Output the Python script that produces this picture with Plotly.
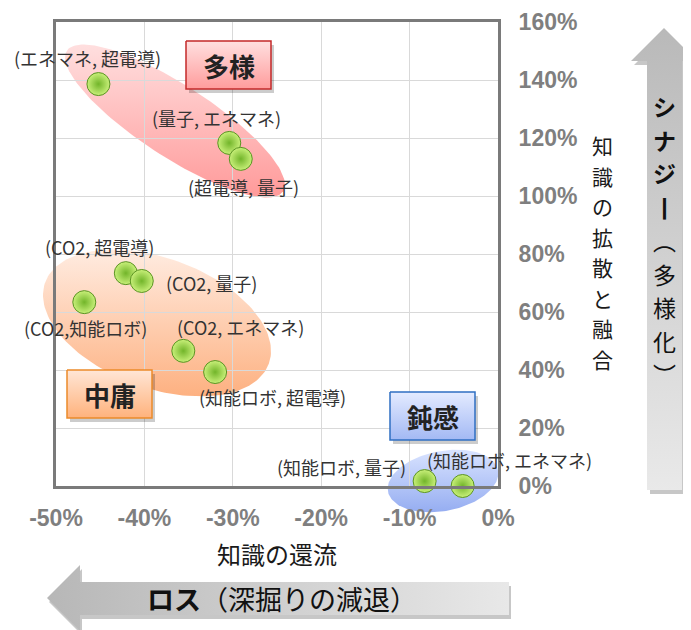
import numpy as np
import plotly.graph_objects as go

# ---------------- data ----------------
pair_labels = ["(エネマネ, 超電導)", "(量子, エネマネ)", "(超電導, 量子)",
               "(CO2, 超電導)", "(CO2, 量子)", "(CO2,知能ロボ)", "(CO2, エネマネ)",
               "(知能ロボ, 超電導)", "(知能ロボ, 量子)", "(知能ロボ, エネマネ)"]
knowledge_return = [-45.2, -30.4, -29.1, -42.1, -40.3, -46.8, -35.6, -32.0, -8.3, -4.0]   # x (%)
knowledge_fusion = [138.6, 118.3, 112.8, 73.4, 70.7, 63.4, 46.6, 39.3, 1.7, 0.0]        # y (%)
x_tick_vals = [-50, -40, -30, -20, -10, 0]
x_tick_text = ["-50%", "-40%", "-30%", "-20%", "-10%", "0%"]
y_tick_vals = [0, 20, 40, 60, 80, 100, 120, 140, 160]
y_tick_text = ["0%", "20%", "40%", "60%", "80%", "100%", "120%", "140%", "160%"]
group_names = ["多様", "中庸", "鈍感"]
x_title = "知識の還流"
y_title = "知識の拡散と融合"
arrow_right_text = ["シ", "ナ", "ジ", "丨", "︵", "多", "様", "化", "︶"]
arrow_bottom_bold = "ロス"
arrow_bottom_rest = "（深掘りの減退）"

# ---------------- layout geometry (screen pixels) ----------------
SCREEN_W, SCREEN_H = 691, 630
OFF = 8                      # page body margin
W, H = SCREEN_W - OFF, SCREEN_H - OFF
PL, PR, PT, PB = 56, 498, 22, 486
label_offsets = [(-11, 26), (-13, 25), (3, -28), (-26, 26), (70, -2),
                 (1, -26), (57, 24), (57, -25), (-83, 14), (47, 26)]

CJK = "Noto Sans CJK JP, Noto Sans, sans-serif"
NUMF = "Liberation Sans, Arial, sans-serif"


def ellipse(cx, cy, a, b, ang, n=160):
    t = np.linspace(0, 2 * np.pi, n)
    th = np.deg2rad(ang)
    xs = cx + a * np.cos(t) * np.cos(th) - b * np.sin(t) * np.sin(th)
    ys = cy + a * np.cos(t) * np.sin(th) + b * np.sin(t) * np.cos(th)
    return list(xs), list(ys)


def rect(x0, y0, x1, y1):
    return [x0, x1, x1, x0, x0], [y0, y0, y1, y1, y0]


fig = go.Figure()


def poly(xs, ys, ref, color=None, grad=None, gtype="vertical", line=None):
    kw = dict(x=xs, y=ys, xaxis=ref[0], yaxis=ref[1], mode="lines", fill="toself",
              hoverinfo="skip", showlegend=False)
    kw["line"] = line if line else dict(width=0, color="rgba(0,0,0,0)")
    if grad:
        kw["fillgradient"] = dict(type=gtype, colorscale=grad)
    else:
        kw["fillcolor"] = color
    fig.add_trace(go.Scatter(**kw))


U = ("x", "y")
O = ("x3", "y3")

# vertical gradients: colorscale 0 = bottom of screen, 1 = top
# right arrow (shadow + body)
ra_x = [664, 697, 682, 682, 647, 647, 631, 664]
ra_y = [28, 61, 61, 490, 490, 61, 61, 28]
poly([v + 3 for v in ra_x], [v + 4 for v in ra_y], U, color="rgba(0,0,0,0.22)")
poly(ra_x, ra_y, U, grad=[[0, "#e9e9e9"], [1, "#b9b9b9"]])

# bottom arrow
ba_x = [47, 80, 80, 509, 509, 80, 80, 47]
ba_y = [598, 565, 582, 582, 615, 615, 631, 598]
poly([v + 2 for v in ba_x], [v + 4 for v in ba_y], U, color="rgba(0,0,0,0.22)")
poly(ba_x, ba_y, U, grad=[[0, "#b7b7b7"], [1, "#e8e8e8"]], gtype="horizontal")

# group ellipses
ex, ey = ellipse(175, 121, 129, 36, 33)
poly(ex, ey, U, grad=[[0, "rgba(255,145,145,0.92)"], [1, "rgba(255,220,220,0.92)"]])
ex, ey = ellipse(157, 323, 119, 65, 20)
poly(ex, ey, U, grad=[[0, "rgba(253,170,118,0.92)"], [1, "rgba(255,234,222,0.92)"]])
ex, ey = ellipse(443, 481, 56, 30, -11)
poly(ex, ey, U, grad=[[0, "rgba(140,166,240,0.92)"], [1, "rgba(214,225,255,0.92)"]])

# ---- data markers (x2/y2) ----
fig.add_trace(go.Scatter(
    x=knowledge_return, y=knowledge_fusion, xaxis="x2", yaxis="y2",
    mode="markers", cliponaxis=False, showlegend=False, text=pair_labels,
    marker=dict(size=23, color="#c9f07a",
                gradient=dict(type="radial", color="#72b52a"),
                line=dict(color="#5a9322", width=1)),
))

# ---- overlay boxes (x3/y3) ----
boxes = [
    ((186, 41, 271, 89), "#c42a2a", [[0, "#ff9c9c"], [1, "#ffe0e0"]]),
    ((67, 370, 152, 418), "#ec8a2a", [[0, "#ffb27c"], [1, "#ffe6d6"]]),
    ((390, 392, 475, 440), "#2f6fc2", [[0, "#a3b9f4"], [1, "#e4ebff"]]),
]
for (x0, y0, x1, y1), bc, g in boxes:
    sx, sy = rect(x0 + 3, y0 + 4, x1 + 3, y1 + 4)
    poly(sx, sy, O, color="rgba(0,0,0,0.2)")
    bx, by = rect(x0, y0, x1, y1)
    poly(bx, by, O, grad=g, line=dict(color=bc, width=1.5))

annotations = []
for name, ((x0, y0, x1, y1), _, _) in zip(group_names, boxes):
    annotations.append(dict(x=(x0 + x1) / 2, y=(y0 + y1) / 2, xref="x3", yref="y3",
                            text=f"<b>{name}</b>", showarrow=False,
                            font=dict(family=CJK, size=26, color="#222222"),
                            xanchor="center", yanchor="middle"))

# point labels
for lab, xv, yv, (dx, dy) in zip(pair_labels, knowledge_return, knowledge_fusion, label_offsets):
    annotations.append(dict(x=xv, y=yv, xref="x2", yref="y2", text=lab, showarrow=False,
                            xshift=dx, yshift=dy, xanchor="center", yanchor="middle",
                            font=dict(family=CJK, size=18, color="#333333")))

# axis titles
annotations.append(dict(x=277, y=553, xref="x3", yref="y3", text=x_title, showarrow=False,
                        font=dict(family=CJK, size=24, color="#1a1a1a"),
                        xanchor="center", yanchor="middle"))


def vertical_text(chars, cx, cy, size, step, bold_n=0, color="#1a1a1a"):
    n = len(chars)
    for i, c in enumerate(chars):
        annotations.append(dict(
            x=cx, y=cy + (i - (n - 1) / 2) * step, xref="x3", yref="y3",
            text=f"<b>{c}</b>" if i < bold_n else c, showarrow=False,
            font=dict(family=CJK, size=size, color=color),
            xanchor="center", yanchor="middle"))


vertical_text(list(y_title), 602, 252, 21, 30.5)
vertical_text(arrow_right_text, 664, 240, 23, 33.5, bold_n=4, color="#111111")

annotations.append(dict(x=145, y=598, xref="x3", yref="y3",
                        text=f"<b>{arrow_bottom_bold}</b>{arrow_bottom_rest}", showarrow=False,
                        font=dict(family=CJK, size=27, color="#111111"),
                        xanchor="left", yanchor="middle"))

pix_ax = dict(domain=[0, 1], visible=False, fixedrange=True, showgrid=False, zeroline=False)
xr = [OFF, OFF + W]
yr = [OFF + H, OFF]

fig.update_layout(
    width=W, height=H,
    margin=dict(l=0, r=0, t=0, b=0),
    paper_bgcolor="white", plot_bgcolor="rgba(0,0,0,0)",
    showlegend=False,
    xaxis=dict(**pix_ax, range=xr, anchor="y"),
    yaxis=dict(**pix_ax, range=yr, anchor="x"),
    xaxis3=dict(**pix_ax, range=xr, anchor="y3"),
    yaxis3=dict(**pix_ax, range=yr, anchor="x3"),
    xaxis2=dict(domain=[(PL - OFF) / W, (PR - OFF) / W], range=[-50, 0], anchor="y2",
                tickvals=x_tick_vals, ticktext=x_tick_text,
                tickfont=dict(family=NUMF, size=23, color="#7f7f7f", weight="bold"),
                ticks="outside", ticklen=9, tickcolor="rgba(0,0,0,0)",
                showgrid=True, gridcolor="#d9d9d9", gridwidth=1, zeroline=False,
                showline=True, mirror=True, linecolor="#7a7a7a", linewidth=3,
                automargin=False, fixedrange=True),
    yaxis2=dict(domain=[1 - (PB - OFF) / H, 1 - (PT - OFF) / H], range=[0, 160], anchor="x2",
                side="right",
                tickvals=y_tick_vals, ticktext=y_tick_text,
                tickfont=dict(family=NUMF, size=23, color="#7f7f7f", weight="bold"),
                ticks="outside", ticklen=13, tickcolor="rgba(0,0,0,0)",
                showgrid=True, gridcolor="#d9d9d9", gridwidth=1, zeroline=False,
                showline=True, mirror=True, linecolor="#7a7a7a", linewidth=3,
                automargin=False, fixedrange=True),
    annotations=annotations,
)

fig.write_html("out.html")
